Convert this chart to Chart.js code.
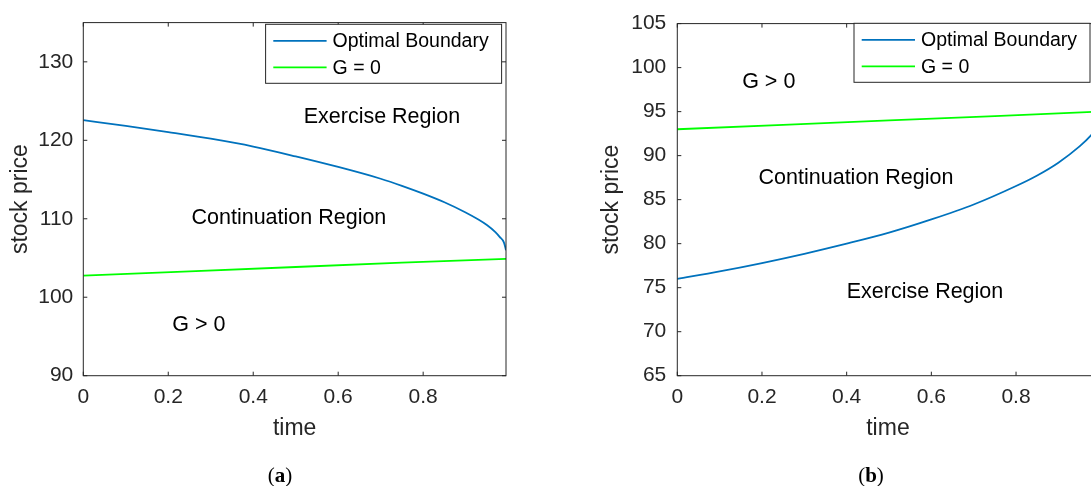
<!DOCTYPE html>
<html>
<head>
<meta charset="utf-8">
<script src="https://cdn.jsdelivr.net/npm/chart.js@4/dist/chart.umd.min.js"></script>
<style>
  body { margin: 0; width: 1091px; height: 486px; overflow: hidden; background: #fff; position: relative; }
  canvas { position: absolute; top: 0; }
  .cap { position: absolute; font-family: "Liberation Serif", serif; font-size: 21px; color: #000; transform: translate(-50%, -50%); }
</style>
</head>
<body>
<canvas id="chartA" width="545" height="486" style="left:0"></canvas>
<canvas id="chartB" width="600" height="486" style="left:546px"></canvas>
<div class="cap" style="left:280px; top:475px">(<b>a</b>)</div>
<div class="cap" style="left:871px; top:475px">(<b>b</b>)</div>

<script>
// ---- data (a) ----
const timeA = [0, 0.1, 0.2, 0.3, 0.4, 0.5, 0.6, 0.7, 0.75, 0.8, 0.85, 0.9, 0.93, 0.95, 0.97, 0.98, 0.99, 0.995];
const boundaryA = [122.56, 121.85, 121.05, 120.2, 119.2, 117.95, 116.6, 115.1, 114.2, 113.2, 112.1, 110.8, 109.9, 109.2, 108.3, 107.7, 107.0, 106.0];
const gTimeA = [0, 0.25, 0.5, 0.75, 0.995];
const gZeroA = [102.75, 103.3, 103.85, 104.4, 104.9];

// ---- data (b) ----
const timeB = [0, 0.1, 0.2, 0.3, 0.4, 0.5, 0.6, 0.7, 0.8, 0.85, 0.9, 0.95, 0.977, 0.99, 0.995];
const boundaryB = [76.0, 76.85, 77.8, 78.85, 80.0, 81.25, 82.75, 84.45, 86.55, 87.75, 89.2, 91.05, 92.3, 93.1, 93.5];
const gTimeB = [0, 0.25, 0.5, 0.75, 0.995];
const gZeroB = [93.0, 93.5, 94.0, 94.5, 94.99];

const seriesNames = ["Optimal Boundary", "G = 0"];
const axisLabelX = "time";
const axisLabelY = "stock price";

const regionLabelsA = [
  { text: "Exercise Region", x: 0.703, y: 123.0 },
  { text: "Continuation Region", x: 0.484, y: 110.1 },
  { text: "G > 0", x: 0.272, y: 96.5 }
];
const regionLabelsB = [
  { text: "G > 0", x: 0.216, y: 98.3 },
  { text: "Continuation Region", x: 0.422, y: 87.5 },
  { text: "Exercise Region", x: 0.585, y: 74.5 }
];

const BLUE = "#0072BD";
const GREEN = "#00FF00";
const AXIS = "#262626";
const FONT = "'Liberation Sans', Arial, sans-serif";

function pts(xs, ys) {
  return xs.map((x, i) => ({ x, y: ys[i] }));
}

// MATLAB-style box with inward ticks on all four sides
const boxAxes = {
  id: "boxAxes",
  afterDraw(chart) {
    const { ctx, chartArea: a, scales } = chart;
    ctx.save();
    ctx.strokeStyle = AXIS;
    ctx.lineWidth = 1;
    ctx.strokeRect(a.left, a.top, a.right - a.left, a.bottom - a.top);
    ctx.beginPath();
    scales.x.ticks.forEach(t => {
      const px = scales.x.getPixelForValue(t.value);
      ctx.moveTo(px, a.bottom); ctx.lineTo(px, a.bottom - 4);
      ctx.moveTo(px, a.top); ctx.lineTo(px, a.top + 4);
    });
    scales.y.ticks.forEach(t => {
      const py = scales.y.getPixelForValue(t.value);
      ctx.moveTo(a.left, py); ctx.lineTo(a.left + 4, py);
      ctx.moveTo(a.right, py); ctx.lineTo(a.right - 4, py);
    });
    ctx.stroke();
    ctx.restore();
  }
};

// region text + legend box
const extras = {
  id: "extras",
  afterDraw(chart, args, opts) {
    const { ctx, scales } = chart;
    ctx.save();
    ctx.fillStyle = "#000";
    ctx.font = "21.5px " + FONT;
    ctx.textAlign = "center";
    ctx.textBaseline = "middle";
    opts.labels.forEach(l => {
      ctx.fillText(l.text, scales.x.getPixelForValue(l.x), scales.y.getPixelForValue(l.y));
    });

    // legend
    const bx = opts.legendX, by = opts.legendY, bw = 236, bh = 59;
    ctx.fillStyle = "#fff";
    ctx.fillRect(bx, by, bw, bh);
    ctx.strokeStyle = AXIS;
    ctx.lineWidth = 1;
    ctx.strokeRect(bx, by, bw, bh);
    ctx.font = "19.5px " + FONT;
    ctx.textAlign = "left";
    chart.data.datasets.forEach((ds, i) => {
      const ly = by + 16.5 + i * 26.5;
      ctx.strokeStyle = ds.borderColor;
      ctx.lineWidth = 1.8;
      ctx.beginPath();
      ctx.moveTo(bx + 7.7, ly);
      ctx.lineTo(bx + 61, ly);
      ctx.stroke();
      ctx.fillStyle = "#000";
      ctx.fillText(ds.label, bx + 67, ly + 1);
    });
    ctx.restore();
  }
};

function makeChart(id, cfg) {
  return new Chart(document.getElementById(id), {
    type: "scatter",
    data: {
      datasets: [
        { label: seriesNames[0], data: pts(cfg.t1, cfg.v1), borderColor: BLUE, borderWidth: 1.8, showLine: true, pointRadius: 0, cubicInterpolationMode: "monotone" },
        { label: seriesNames[1], data: pts(cfg.t2, cfg.v2), borderColor: GREEN, borderWidth: 1.8, showLine: true, pointRadius: 0 }
      ]
    },
    options: {
      responsive: false,
      animation: false,
      devicePixelRatio: 1,
      layout: { autoPadding: false, padding: cfg.padding },
      plugins: {
        legend: { display: false },
        tooltip: { enabled: false },
        extras: { labels: cfg.labels, legendX: cfg.legendX, legendY: cfg.legendY }
      },
      scales: {
        x: {
          type: "linear",
          min: 0, max: 0.995,
          grid: { display: false, drawTicks: false },
          border: { display: false },
          ticks: {
            stepSize: 0.2, includeBounds: false, padding: 9.4,
            color: AXIS, font: { family: FONT, size: 21 },
            maxRotation: 0,
            callback: v => String(Number(v.toFixed(1)))
          },
          title: { display: true, text: axisLabelX, color: AXIS, font: { family: FONT, size: 23 }, padding: { top: 0, bottom: 0 } },
          afterFit: s => { s.height = 66.5; }
        },
        y: {
          min: cfg.yMin, max: cfg.yMax,
          grid: { display: false, drawTicks: false },
          border: { display: false },
          ticks: {
            stepSize: cfg.yStep, includeBounds: false, padding: cfg.yPad,
            color: AXIS, font: { family: FONT, size: 21 }
          },
          title: { display: true, text: axisLabelY, color: AXIS, font: { family: FONT, size: 23 }, padding: { top: 7.2, bottom: 0 } },
          afterFit: s => { s.width = cfg.yWidth; }
        }
      }
    },
    plugins: [boxAxes, extras]
  });
}

makeChart("chartA", {
  t1: timeA, v1: boundaryA, t2: gTimeA, v2: gZeroA,
  yMin: 90, yMax: 135, yStep: 10, yPad: 10, yWidth: 83.3,
  padding: { left: 0, top: 19, right: 39, bottom: 43.8 },
  labels: regionLabelsA, legendX: 265.6, legendY: 24.3
});

makeChart("chartB", {
  t1: timeB, v1: boundaryB, t2: gTimeB, v2: gZeroB,
  yMin: 65, yMax: 105, yStep: 5, yPad: 11, yWidth: 86.3,
  padding: { left: 45, top: 17.3, right: 47.4, bottom: 43.8 },
  labels: regionLabelsB, legendX: 308, legendY: 23.3
});
</script>
</body>
</html>
